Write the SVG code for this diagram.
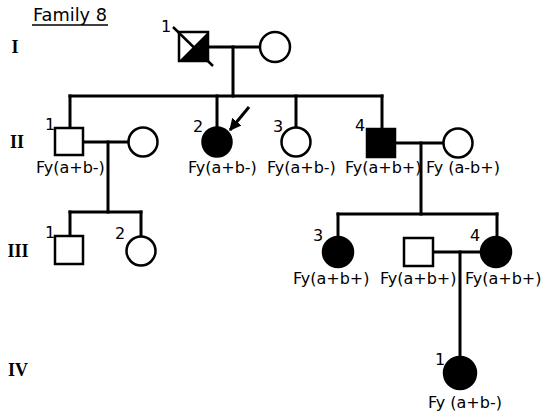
<svg xmlns="http://www.w3.org/2000/svg" width="543" height="412" viewBox="0 0 543 412">
<style>
.ln{stroke:#000;stroke-width:3;fill:none;stroke-linecap:square}
.o{stroke:#000;stroke-width:2.5;fill:#fff}
.f{stroke:#000;stroke-width:2.5;fill:#000}
.t{font-family:"DejaVu Sans",sans-serif;font-size:16px;fill:#000}
.n{font-family:"DejaVu Sans",sans-serif;font-size:16px;fill:#000}
.g{font-family:"Liberation Serif",serif;font-size:18px;font-weight:bold;fill:#000}
</style>
<defs>
<marker id="ah" viewBox="0 0 10 10" refX="9" refY="5" markerWidth="4" markerHeight="4" orient="auto" markerUnits="strokeWidth">
<path d="M0,0 L10,5 L0,10 z" fill="#000"/>
</marker>
</defs>
<g id="labels">
<text x="33" y="21" class="t" style="font-size:17px" textLength="74" lengthAdjust="spacingAndGlyphs">Family 8</text>
<line x1="32" y1="25" x2="108" y2="25" stroke="#000" stroke-width="1.5"/>
<text x="15" y="53" class="g" text-anchor="middle">I</text>
<text x="17" y="148" class="g" text-anchor="middle">II</text>
<text x="18" y="257" class="g" text-anchor="middle">III</text>
<text x="18" y="376" class="g" text-anchor="middle">IV</text>
</g>
<g id="connectors">
<line class="ln" x1="209" y1="47" x2="260" y2="47"/>
<line class="ln" x1="233" y1="47" x2="233" y2="96"/>
<line class="ln" x1="70" y1="96" x2="382" y2="96"/>
<line class="ln" x1="70" y1="96" x2="70" y2="128"/>
<line class="ln" x1="217" y1="96" x2="217" y2="127"/>
<line class="ln" x1="296" y1="96" x2="296" y2="127"/>
<line class="ln" x1="382" y1="96" x2="382" y2="129"/>
<line class="ln" x1="83" y1="142" x2="128" y2="142"/>
<line class="ln" x1="108" y1="142" x2="108" y2="212"/>
<line class="ln" x1="70" y1="212" x2="141" y2="212"/>
<line class="ln" x1="70" y1="212" x2="70" y2="236"/>
<line class="ln" x1="141" y1="212" x2="141" y2="237"/>
<line class="ln" x1="395" y1="143" x2="443" y2="143"/>
<line class="ln" x1="421" y1="143" x2="421" y2="214"/>
<line class="ln" x1="338" y1="214" x2="497" y2="214"/>
<line class="ln" x1="338" y1="214" x2="338" y2="237"/>
<line class="ln" x1="497" y1="214" x2="497" y2="237"/>
<line class="ln" x1="433" y1="252" x2="482" y2="252"/>
<line class="ln" x1="460" y1="252" x2="460" y2="357"/>
<line x1="249" y1="107" x2="230" y2="130" stroke="#000" stroke-width="3" marker-end="url(#ah)"/>
</g>
<g id="I-1">
<rect class="o" x="179" y="32" width="29" height="29"/>
<polygon points="208,32 208,61 179,61" fill="#000"/>
<line x1="173" y1="27" x2="213" y2="66" stroke="#000" stroke-width="2.5"/>
<text x="161" y="32" class="n">1</text>
</g>
<g id="I-2"><circle class="o" cx="275" cy="47" r="15"/></g>
<g id="II-1">
<rect class="o" x="55" y="128" width="28" height="27"/>
<text x="45" y="130" class="n">1</text>
<text x="36" y="173" class="t">Fy(a+b-)</text>
</g>
<g id="II-1w"><circle class="o" cx="143" cy="142" r="14.5"/></g>
<g id="II-2">
<circle class="f" cx="217" cy="142" r="14.5"/>
<text x="193" y="132" class="n">2</text>
<text x="188" y="173" class="t">Fy(a+b-)</text>
</g>
<g id="II-3">
<circle class="o" cx="296" cy="142" r="14.5"/>
<text x="273" y="132" class="n">3</text>
<text x="267" y="173" class="t">Fy(a+b-)</text>
</g>
<g id="II-4">
<rect class="f" x="367" y="129" width="28" height="28"/>
<text x="355" y="131" class="n">4</text>
<text x="345" y="173" class="t">Fy(a+b+)</text>
</g>
<g id="II-4w">
<circle class="o" cx="458" cy="143" r="14.5"/>
<text x="426" y="173" class="t">Fy (a-b+)</text>
</g>
<g id="III-1">
<rect class="o" x="55" y="236" width="28" height="28"/>
<text x="45" y="238" class="n">1</text>
</g>
<g id="III-2">
<circle class="o" cx="141" cy="251" r="14.5"/>
<text x="115" y="239" class="n">2</text>
</g>
<g id="III-3">
<circle class="f" cx="338" cy="252" r="15"/>
<text x="313" y="241" class="n">3</text>
<text x="293" y="284" class="t">Fy(a+b+)</text>
</g>
<g id="III-sp">
<rect class="o" x="404" y="238" width="29" height="28"/>
<text x="380" y="284" class="t">Fy(a+b+)</text>
</g>
<g id="III-4">
<circle class="f" cx="496" cy="252" r="15"/>
<text x="470" y="241" class="n">4</text>
<text x="465" y="284" class="t">Fy(a+b+)</text>
</g>
<g id="IV-1">
<circle class="f" cx="460" cy="373" r="16"/>
<text x="435" y="365" class="n">1</text>
<text x="428" y="408" class="t">Fy (a+b-)</text>
</g>
</svg>
